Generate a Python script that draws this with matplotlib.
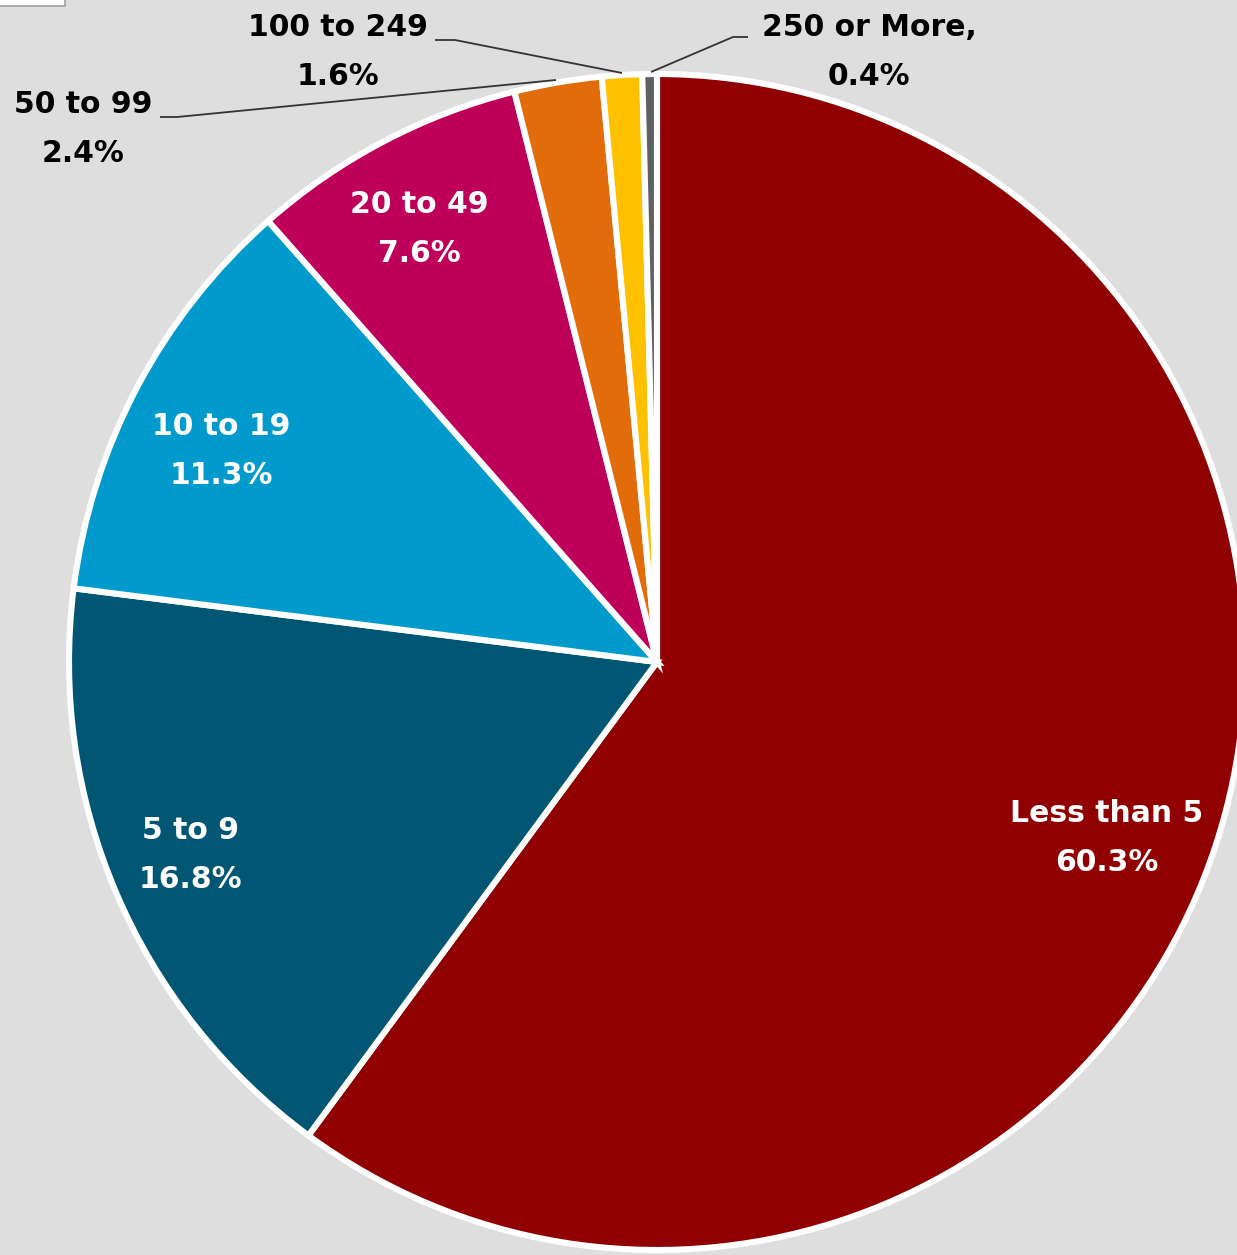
import matplotlib
matplotlib.use("Agg")
import matplotlib.pyplot as plt
from matplotlib.patches import Rectangle

categories = ["Less than 5", "5 to 9", "10 to 19", "20 to 49", "50 to 99", "100 to 249", "250 or More"]
# percentages as printed on the labels
pct_labels = ["60.3%", "16.8%", "11.3%", "7.6%", "2.4%", "1.6%", "0.4%"]
# slice sizes as drawn in the picture (wedge angles)
shares = [60.1, 16.9, 11.5, 7.6, 2.4, 1.1, 0.4]
colors = ["#900000", "#005673", "#009ACD", "#BE005B", "#E36C0A", "#FFC000", "#606060"]

W, H = 1237, 1255
fig = plt.figure(figsize=(W / 100, H / 100), dpi=100)
fig.patch.set_facecolor("#DEDEDE")
ax = fig.add_axes([0, 0, 1, 1])
ax.set_facecolor("#DEDEDE")

def Y(y):
    return H - y

cx, cy, R = 657, Y(662), 588
ax.pie(shares, colors=colors, startangle=90, counterclock=False,
       center=(cx, cy), radius=R, frame=True,
       wedgeprops=dict(edgecolor="white", linewidth=4.4))
ax.set_xlim(0, W)
ax.set_ylim(0, H)
ax.axis("off")

font = dict(family=["DejaVu Sans"], fontsize=21.5, fontweight="bold",
            ha="center", va="center", linespacing=1.9)
# label layout (image pixel coords), text colour
label_pos = [(1107, 838, "white"), (190, 855, "white"), (221, 451, "white"),
             (419, 229, "white"), (83, 129, "black"), (338, 52, "black"), (869, 52, "black")]
for i, (x, y, c) in enumerate(label_pos):
    name = categories[i] + ("," if i == len(categories) - 1 else "")
    ax.text(x, Y(y), name + "\n" + pct_labels[i], color=c, **font)

# leader lines
leaders = [
    [(160, 117), (177, 117), (556, 80)],
    [(435, 40), (455, 40), (622, 73)],
    [(748, 37), (733, 37), (651, 72)],
]
for pts in leaders:
    xs = [p[0] for p in pts]
    ys = [Y(p[1]) for p in pts]
    ax.plot(xs, ys, color="#333333", linewidth=1.3, solid_capstyle="butt")

ax.add_patch(Rectangle((-2, Y(6)), 67, 10, facecolor="white", edgecolor="#A0A0A0", linewidth=1.2))

fig.savefig("out.png", dpi=100, facecolor=fig.get_facecolor())
